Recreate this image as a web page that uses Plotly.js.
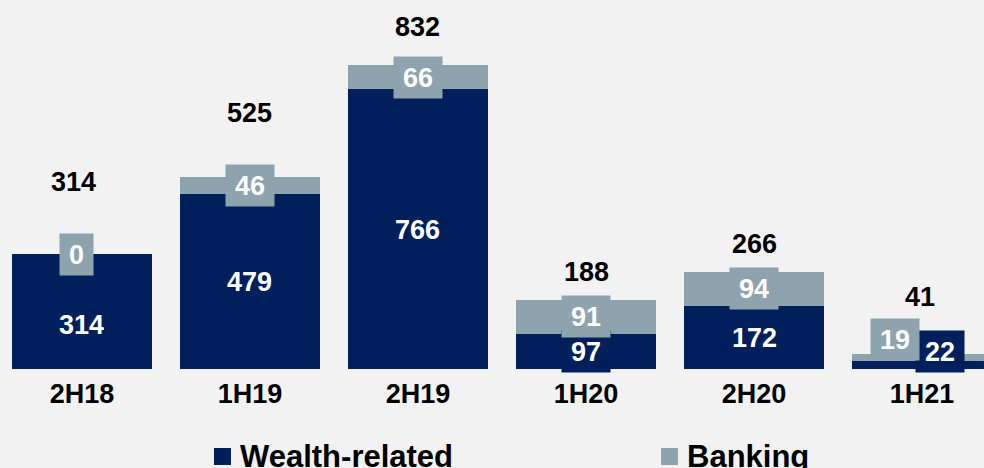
<!DOCTYPE html>
<html>
<head>
<meta charset="utf-8">
<script src="https://cdn.plot.ly/plotly-3.0.1.min.js"></script>
<style>
html,body{margin:0;padding:0;background:#f2f2f2;}
#chart{width:984px;height:468px;}
</style>
</head>
<body>
<div id="chart"></div>
<script>
// ---- data ----
const periods = ['2H18', '1H19', '2H19', '1H20', '2H20', '1H21'];
const wealthRelated = [314, 479, 766, 97, 172, 22];
const banking = [0, 46, 66, 91, 94, 19];
const totals = [314, 525, 832, 188, 266, 41];
const seriesNames = ['Wealth-related', 'Banking'];

// ---- styling ----
const NAVY = '#001F5B';
const GREY = '#8DA3AD';
const BG = '#F2F2F2';
const FONT = 'Liberation Sans, Arial, Helvetica, sans-serif';
const FS = 27;
const W = 984, H = 468, PLOT_H = 369;

// label pixel offsets (layout only)
const totalShift = [[-8, 72], [0, 64], [0, 38], [0, 28], [0, 28], [-2, 57]];
const wealthShift = [[0, -13], [0, 0], [0, 0], [0, 0], [0, 0], [18, 13]];
const bankShift = [[-5, 0], [0, 0], [0, 0], [0, 0], [0, 0], [-27, 18]];

const barW = 0.833;
const colors = [NAVY, GREY];

const traces = [
  {type: 'bar', name: seriesNames[0], x: periods, y: wealthRelated, width: barW,
   marker: {color: NAVY, line: {width: 0}}, hoverinfo: 'skip', showlegend: false},
  {type: 'bar', name: seriesNames[1], x: periods, y: banking, width: barW,
   marker: {color: GREY, line: {width: 0}}, hoverinfo: 'skip', showlegend: false}
];

const annotations = [];
periods.forEach((p, i) => {
  annotations.push({
    x: p, y: totals[i], xref: 'x', yref: 'y', text: String(totals[i]),
    showarrow: false, xanchor: 'center', yanchor: 'middle',
    xshift: totalShift[i][0], yshift: totalShift[i][1],
    font: {family: FONT, size: FS, color: '#000', weight: 'bold'}
  });
  annotations.push({
    x: p, y: wealthRelated[i] / 2, xref: 'x', yref: 'y', text: String(wealthRelated[i]),
    showarrow: false, xanchor: 'center', yanchor: 'middle',
    xshift: wealthShift[i][0], yshift: wealthShift[i][1],
    bgcolor: NAVY, borderpad: 9, height: 23,
    font: {family: FONT, size: FS, color: '#fff', weight: 'bold'}
  });
  annotations.push({
    x: p, y: wealthRelated[i] + banking[i] / 2, xref: 'x', yref: 'y', text: String(banking[i]),
    showarrow: false, xanchor: 'center', yanchor: 'middle',
    xshift: bankShift[i][0], yshift: bankShift[i][1],
    bgcolor: GREY, borderpad: 9, height: 23,
    font: {family: FONT, size: FS, color: '#fff', weight: 'bold'}
  });
});

// manual legend (squares + text), positioned in pixels converted to paper coords
const px2x = px => px / W;
const px2y = py => (PLOT_H - py) / PLOT_H;
const legendPos = [214, 661];
const shapes = [];
seriesNames.forEach((name, k) => {
  const x0 = legendPos[k];
  shapes.push({
    type: 'rect', xref: 'paper', yref: 'paper',
    x0: px2x(x0), x1: px2x(x0 + 17), y0: px2y(465), y1: px2y(448),
    fillcolor: colors[k], line: {width: 0}
  });
  annotations.push({
    xref: 'paper', yref: 'paper', x: px2x(x0 + 24), y: px2y(456),
    xanchor: 'left', yanchor: 'middle', showarrow: false, text: name,
    font: {family: FONT, size: 31, color: '#000', weight: 'bold'}
  });
});

const layout = {
  width: W, height: H, autosize: false,
  paper_bgcolor: BG, plot_bgcolor: BG,
  margin: {l: 0, r: 0, t: 0, b: H - PLOT_H, pad: 0, autoexpand: false},
  barmode: 'stack',
  showlegend: false,
  xaxis: {
    type: 'category', range: [-0.488, 5.369], fixedrange: true,
    showgrid: false, zeroline: false, showline: false, ticks: '',
    ticklabelstandoff: 6,
    tickfont: {family: FONT, size: FS, color: '#000', weight: 'bold'}
  },
  yaxis: {
    range: [0, 1010], visible: false, showgrid: false, zeroline: false, fixedrange: true
  },
  shapes: shapes,
  annotations: annotations
};

Plotly.newPlot('chart', traces, layout, {displayModeBar: false, staticPlot: true});
</script>
</body>
</html>
